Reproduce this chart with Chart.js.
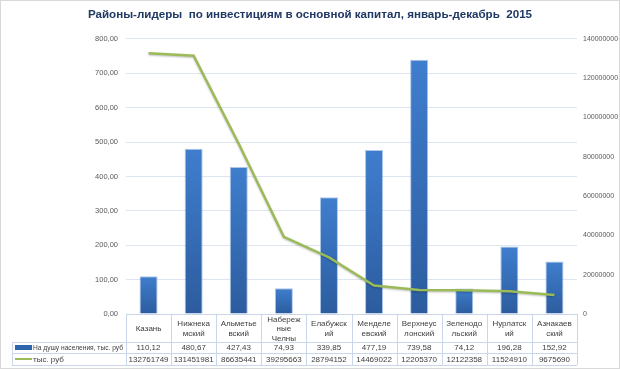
<!DOCTYPE html>
<html>
<head>
<meta charset="utf-8">
<script src="https://cdn.jsdelivr.net/npm/chart.js@4"></script>
<style>
  html, body { margin: 0; padding: 0; background: #fff; }
  canvas { display: block; }
</style>
</head>
<body>
<canvas id="investChart" width="620" height="369"></canvas>
<script>
/* Районы-лидеры по инвестициям: столбцы (на душу) + линия (тыс. руб) + таблица данных */

const titleText = 'Районы-лидеры  по инвестициям в основной капитал, январь-декабрь  2015';
const districts = [
    ['Казань'],
    ['Нижнека', 'мский'],
    ['Альметье', 'вский'],
    ['Набереж', 'ные', 'Челны'],
    ['Елабужск', 'ий'],
    ['Менделе', 'евский'],
    ['Верхнеус', 'лонский'],
    ['Зеленодо', 'льский'],
    ['Нурлатск', 'ий'],
    ['Азнакаев', 'ский']
];
const perCapitaLabel = 'На душу населения, тыс. руб';
const perCapita = [110.12, 480.67, 427.43, 74.93, 339.85, 477.19, 739.58, 74.12, 196.28, 152.92];
const totalLabel = 'тыс. руб';
const totals = [132761749, 131451981, 86635441, 39295663, 28794152, 14469022, 12205370, 12122358, 11524910, 9675690];
const leftMax = 800;
const leftStep = 100;
const rightMax = 140000000;
const rightStep = 20000000;

const FONT = 'Liberation Sans';
const LINE_GREEN = '#9BBB59';
const GRID = '#DCE5F1';
const TABLE_LINE = '#CAD7EA';
const TEXT = '#404040';

function formatComma(v) {
    return v.toFixed(2).replace('.', ',');
}

function barGradient(context) {
    const chart = context.chart;
    const area = chart.chartArea;
    if (!area) return '#3A72BE';
    const value = context.raw || 0;
    const top = chart.scales.y.getPixelForValue(value);
    const g = chart.ctx.createLinearGradient(0, top, 0, area.bottom);
    g.addColorStop(0, '#3F7ECE');
    g.addColorStop(1, '#2C5C9E');
    return g;
}

const dataTablePlugin = {
    id: 'dataTable',
    beforeDatasetDraw(chart, args) {
        if (args.index === 0) {
            chart.ctx.save();
            chart.ctx.shadowColor = 'rgba(0,0,0,0.25)';
            chart.ctx.shadowBlur = 2;
            chart.ctx.shadowOffsetY = 1;
        }
    },
    afterDatasetDraw(chart, args) {
        if (args.index === 0) chart.ctx.restore();
    },
    afterDraw(chart) {
        const ctx = chart.ctx;
        const { left, right, bottom } = chart.chartArea;
        const n = districts.length;
        const colW = (right - left) / n;
        const legendLeft = 12;
        const y0 = bottom;
        const y1 = bottom + 28;
        const y2 = y1 + 11;
        const y3 = y2 + 12;

        ctx.save();
        ctx.strokeStyle = TABLE_LINE;
        ctx.lineWidth = 1;
        ctx.beginPath();
        for (let i = 0; i <= n; i++) {
            const x = Math.round(left + i * colW) + 0.5;
            ctx.moveTo(x, y0);
            ctx.lineTo(x, y3);
        }
        ctx.moveTo(legendLeft + 0.5, y1);
        ctx.lineTo(legendLeft + 0.5, y3);
        [y1, y2, y3].forEach((y) => {
            ctx.moveTo(legendLeft, Math.round(y) + 0.5);
            ctx.lineTo(right, Math.round(y) + 0.5);
        });
        ctx.stroke();

        ctx.fillStyle = TEXT;
        ctx.font = `8px "${FONT}"`;
        ctx.textAlign = 'center';
        ctx.textBaseline = 'middle';
        const lh = 9.5;
        const maxW = colW - 5;
        districts.forEach((lines, i) => {
            const cx = left + (i + 0.5) * colW;
            const midY = (y0 + y1) / 2 + 1;
            const startY = midY - ((lines.length - 1) * lh) / 2;
            lines.forEach((line, j) => ctx.fillText(line, cx, startY + j * lh, maxW));
            ctx.fillText(formatComma(perCapita[i]), cx, (y1 + y2) / 2 + 0.5, maxW);
            ctx.fillText(String(totals[i]), cx, (y2 + y3) / 2 + 0.5, maxW);
        });

        ctx.textAlign = 'left';
        ctx.fillStyle = '#2E64AA';
        ctx.fillRect(legendLeft + 3, y1 + 3, 17, 5);
        ctx.fillStyle = TEXT;
        ctx.fillText(perCapitaLabel, legendLeft + 21, (y1 + y2) / 2 + 0.5, left - legendLeft - 24);
        ctx.strokeStyle = LINE_GREEN;
        ctx.lineWidth = 2;
        ctx.beginPath();
        ctx.moveTo(legendLeft + 3, (y2 + y3) / 2);
        ctx.lineTo(legendLeft + 20, (y2 + y3) / 2);
        ctx.stroke();
        ctx.fillText(totalLabel, legendLeft + 21, (y2 + y3) / 2 + 0.5);

        ctx.strokeStyle = '#D9D9D9';
        ctx.lineWidth = 1;
        ctx.strokeRect(0.5, 0.5, chart.width - 1, chart.height - 1);
        ctx.restore();
    }
};

new Chart(document.getElementById('investChart').getContext('2d'), {
    data: {
        labels: districts,
        datasets: [{
            type: 'line',
            label: totalLabel,
            data: totals,
            yAxisID: 'y1',
            borderColor: LINE_GREEN,
            borderWidth: 2.5,
            pointRadius: 0,
            tension: 0,
            order: 1
        }, {
            type: 'bar',
            label: perCapitaLabel,
            data: perCapita,
            yAxisID: 'y',
            backgroundColor: barGradient,
            borderColor: 'rgba(120,160,215,0.6)',
            borderWidth: { top: 1, left: 1, right: 1, bottom: 0 },
            categoryPercentage: 1,
            barPercentage: 0.4,
            order: 2
        }]
    },
    options: {
        responsive: false,
        animation: false,
        layout: { padding: 0 },
        plugins: {
            legend: { display: false },
            tooltip: { enabled: false },
            title: {
                display: true,
                text: titleText,
                color: '#1F3864',
                font: { family: FONT, size: 11.6, weight: 'bold' },
                padding: { top: 8, bottom: 17 }
            }
        },
        scales: {
            x: {
                grid: { display: false },
                ticks: { display: false },
                border: { display: true, color: TABLE_LINE },
                afterFit: (scale) => { scale.height = 55; }
            },
            y: {
                position: 'left',
                min: 0,
                max: leftMax,
                ticks: {
                    stepSize: leftStep,
                    color: '#595959',
                    font: { family: FONT, size: 7.5 },
                    padding: 8,
                    callback: (v) => formatComma(v)
                },
                grid: { color: GRID, drawTicks: false },
                border: { display: false },
                afterFit: (scale) => { scale.width = 126; }
            },
            y1: {
                position: 'right',
                min: 0,
                max: rightMax,
                ticks: {
                    stepSize: rightStep,
                    color: '#595959',
                    font: { family: FONT, size: 7 },
                    padding: 6,
                    callback: (v) => String(v)
                },
                grid: { drawOnChartArea: false, drawTicks: false },
                border: { display: false },
                afterFit: (scale) => { scale.width = 43; }
            }
        }
    },
    plugins: [dataTablePlugin]
});
</script>
</body>
</html>
